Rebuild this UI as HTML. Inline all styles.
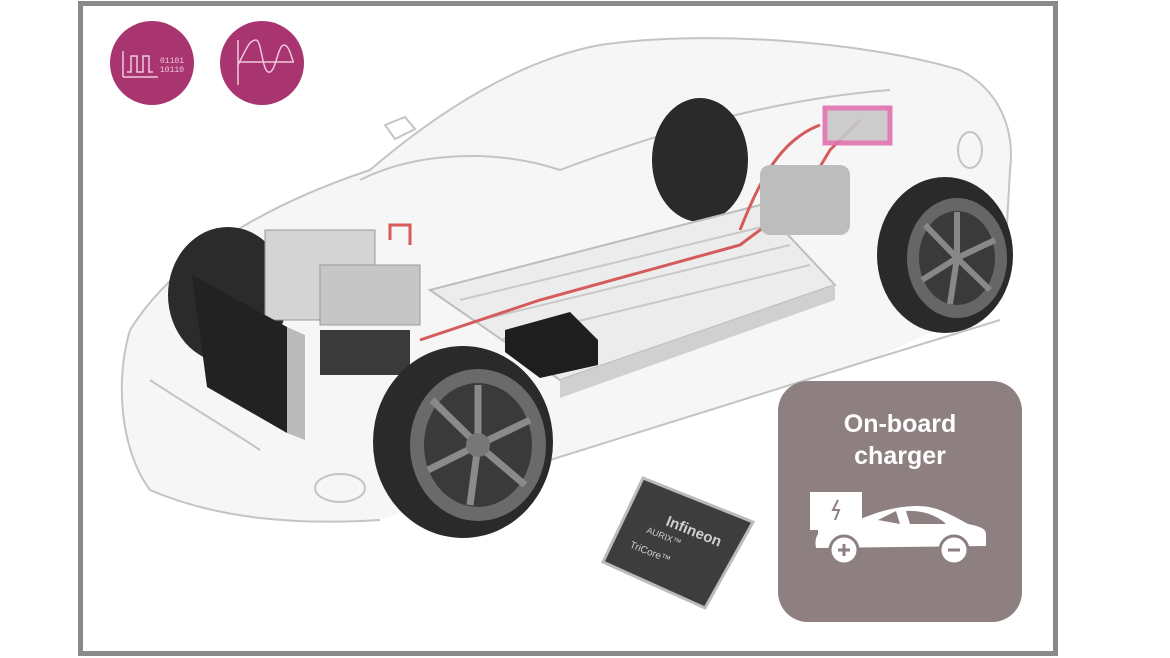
<!DOCTYPE html>
<html><head><meta charset="utf-8"><style>
html,body{margin:0;padding:0;background:#fff;}
body{width:1170px;height:658px;position:relative;overflow:hidden;font-family:"Liberation Sans",sans-serif;}
.frame{position:absolute;left:78px;top:1px;width:970px;height:645px;border:5px solid #8a8a8a;}
.box{position:absolute;left:778px;top:381px;width:244px;height:241px;border-radius:30px;background:#8e7f81;color:#fff;text-align:center;font-size:25px;line-height:32px;font-weight:bold;}
</style></head><body>
<div class="frame"></div>
<svg width="1170" height="658" style="position:absolute;left:0;top:0">
<!-- car body fill -->
<path d="M130,330 C180,250 280,200 370,170 C440,110 520,60 600,45 C700,30 860,40 960,70 C1000,90 1015,130 1010,170 L1005,300 L870,360 L550,460 L380,520 C300,525 220,520 150,490 C120,450 115,380 130,330Z" fill="#f6f6f6"/>
<g fill="none" stroke="#c4c4c4" stroke-width="2">
<path d="M130,330 C180,250 280,200 370,170 C440,110 520,60 600,45 C700,30 860,40 960,70 C1000,90 1015,130 1010,170 L1005,260"/>
<path d="M130,330 C115,380 120,450 150,490 C220,520 300,525 380,520"/>
<path d="M360,180 C420,150 500,150 560,170 C640,140 760,100 890,90"/>
<path d="M150,380 C180,400 230,430 260,450"/>
<path d="M550,460 L870,360 L1000,320"/>
<ellipse cx="340" cy="488" rx="25" ry="14"/>
<ellipse cx="970" cy="150" rx="12" ry="18"/>
<path d="M385,125 l20,-8 l10,12 l-20,10z"/>
</g>
<ellipse cx="700" cy="160" rx="48" ry="62" fill="#2a2a2a"/>
<polygon points="430,290 760,205 835,285 560,380" fill="#ececec" stroke="#bdbdbd" stroke-width="2"/>
<g stroke="#c8c8c8" stroke-width="2">
<line x1="460" y1="300" x2="770" y2="225"/><line x1="480" y1="320" x2="790" y2="245"/><line x1="500" y1="340" x2="810" y2="265"/>
</g>
<polygon points="560,380 835,285 835,300 560,398" fill="#d0d0d0"/>
<g fill="none" stroke="#d45b5b" stroke-width="3">
<path d="M420,340 L540,300 L740,245 L800,200 L830,150 L860,120"/>
<path d="M740,230 C760,180 780,140 820,125"/>
<path d="M390,240 l0,-15 l20,0 l0,20"/>
</g>
<rect x="760" y="165" width="90" height="70" rx="10" fill="#bdbdbd"/>
<rect x="825" y="108" width="65" height="35" fill="#c8c8c8" stroke="#e070b0" stroke-width="5" opacity=".9"/>
<ellipse cx="228" cy="295" rx="60" ry="68" fill="#2b2b2b"/>
<rect x="265" y="230" width="110" height="90" fill="#d4d4d4" stroke="#999"/>
<rect x="320" y="265" width="100" height="60" fill="#c6c6c6" stroke="#999"/>
<rect x="320" y="330" width="90" height="45" fill="#3a3a3a"/>
<polygon points="192,275 287,327 287,433 207,387" fill="#222"/>
<polygon points="287,327 305,335 305,440 287,433" fill="#bbb"/>
<polygon points="505,330 570,312 598,340 598,365 540,378 505,352" fill="#1e1e1e"/>
<ellipse cx="463" cy="442" rx="90" ry="96" fill="#2a2a2a"/>
<ellipse cx="478" cy="445" rx="68" ry="76" fill="#6a6a6a"/>
<ellipse cx="478" cy="445" rx="54" ry="62" fill="#3a3a3a"/>
<g stroke="#8a8a8a" stroke-width="7">
<line x1="478" y1="445" x2="478" y2="385"/><line x1="478" y1="445" x2="530" y2="420"/><line x1="478" y1="445" x2="525" y2="485"/><line x1="478" y1="445" x2="470" y2="505"/><line x1="478" y1="445" x2="428" y2="470"/><line x1="478" y1="445" x2="432" y2="400"/>
</g>
<circle cx="478" cy="445" r="12" fill="#777"/>
<ellipse cx="945" cy="255" rx="68" ry="78" fill="#2a2a2a"/>
<ellipse cx="957" cy="258" rx="50" ry="60" fill="#666"/>
<ellipse cx="957" cy="258" rx="38" ry="47" fill="#3a3a3a"/>
<g stroke="#888" stroke-width="6">
<line x1="957" y1="258" x2="957" y2="212"/><line x1="957" y1="258" x2="995" y2="240"/><line x1="957" y1="258" x2="990" y2="290"/><line x1="957" y1="258" x2="950" y2="304"/><line x1="957" y1="258" x2="922" y2="280"/><line x1="957" y1="258" x2="925" y2="225"/>
</g>
<circle cx="152" cy="63" r="42" fill="#a8356f"/>
<circle cx="262" cy="63" r="42" fill="#a8356f"/>
<path d="M123,77 l0,-26 M123,77 h35 M127,72 h4 v-16 h6 v16 h6 v-16 h6 v16 h4" fill="none" stroke="#f0c8dc" stroke-width="1.5"/>
<text x="160" y="63" font-size="8" fill="#f0c8dc" font-family="Liberation Mono,monospace">01101</text>
<text x="160" y="72" font-size="8" fill="#f0c8dc" font-family="Liberation Mono,monospace">10110</text>
<path d="M238,85 v-45 M238,65 C248,45 250,40 256,40 C262,40 262,75 270,72 C276,70 278,45 284,45 C290,45 292,62 294,62 H240" fill="none" stroke="#f0c8dc" stroke-width="1.5"/>
<polygon points="643,478 753,522 705,608 603,562" fill="#3d3d3d" stroke="#bbb" stroke-width="3"/>
<g transform="translate(665,525) rotate(22)" fill="#cfcfcf" font-family="Liberation Sans,sans-serif">
<text x="0" y="0" font-size="15" font-weight="bold">Infineon</text>
<text x="-15" y="14" font-size="9">AURIX™</text>
<text x="-25" y="34" font-size="10">TriCore™</text>
</g>
</svg>
<div class="box">
<div style="margin-top:27px">On-board<br>charger</div>
<svg width="244" height="120" style="position:absolute;left:0;top:105px">
<rect x="32" y="6" width="52" height="38" fill="#fff"/>
<rect x="40" y="44" width="6" height="8" fill="#fff"/><rect x="52" y="44" width="6" height="8" fill="#fff"/><rect x="64" y="44" width="6" height="8" fill="#fff"/>
<path d="M60,14 l-5,10 h6 l-4,10" stroke="#8e7f81" stroke-width="2" fill="none"/>
<path d="M85,32 C100,26 118,20 140,20 C160,20 175,30 190,38 C200,40 208,42 208,48 L208,60 L38,62 C36,52 40,44 50,42 L85,32Z" fill="#fff"/>
<path d="M100,34 L118,25 L122,38Z M128,25 C145,24 160,30 168,38 L132,38Z" fill="#8e7f81"/>
<circle cx="66" cy="64" r="14" fill="#fff" stroke="#8e7f81" stroke-width="3"/>
<circle cx="176" cy="64" r="14" fill="#fff" stroke="#8e7f81" stroke-width="3"/>
<path d="M60,64 h12 M66,58 v12 M170,64 h12" stroke="#8e7f81" stroke-width="3"/>
</svg>
</div>
</body></html>
